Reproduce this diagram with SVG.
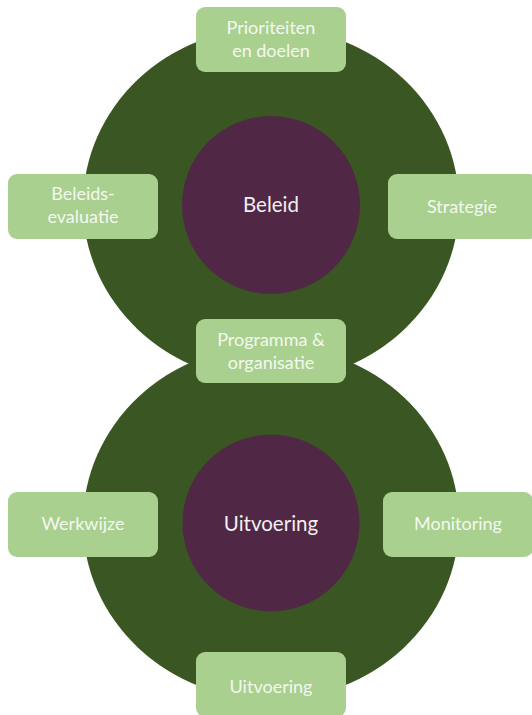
<svg xmlns="http://www.w3.org/2000/svg" width="532" height="715" viewBox="0 0 532 715">
  <style>
    .ring { fill: #3A5723; }
    .core { fill: #502845; }
    .box { fill: #A9D08E; }
    .lbl { font-family: Lato, "Noto Sans", "Liberation Sans", sans-serif; font-size: 18px; fill: #F4F8F0; text-anchor: middle; }
    .core-lbl { font-family: Lato, "Noto Sans", "Liberation Sans", sans-serif; font-size: 20.5px; fill: #F2EEF1; text-anchor: middle; }
  </style>
  <rect width="532" height="715" fill="#FFFFFF"/>

  <g id="beleid-ring">
    <ellipse class="ring" cx="271" cy="204.5" rx="188" ry="177"/>
  </g>
  <g id="uitvoering-ring">
    <ellipse class="ring" cx="271" cy="522.5" rx="188" ry="177"/>
  </g>

  <g id="beleid">
    <circle class="core" cx="271" cy="205" r="89"/>
    <text class="core-lbl" x="271" y="212">Beleid</text>
  </g>
  <g id="uitvoering-core">
    <circle class="core" cx="271" cy="523" r="88.5"/>
    <text class="core-lbl" x="271" y="531">Uitvoering</text>
  </g>

  <g id="connectors"/>

  <g id="prioriteiten">
    <rect class="box" x="196" y="7" width="150" height="65" rx="9"/>
    <text class="lbl" x="271" y="34">Prioriteiten</text>
    <text class="lbl" x="271" y="57">en doelen</text>
  </g>
  <g id="beleidsevaluatie">
    <rect class="box" x="8" y="174" width="150" height="65" rx="9"/>
    <text class="lbl" x="83" y="200">Beleids-</text>
    <text class="lbl" x="83" y="223">evaluatie</text>
  </g>
  <g id="strategie">
    <rect class="box" x="388" y="174" width="150" height="65" rx="9"/>
    <text class="lbl" x="462" y="213">Strategie</text>
  </g>
  <g id="programma">
    <rect class="box" x="196" y="319" width="150" height="64" rx="9"/>
    <text class="lbl" x="271" y="346">Programma &amp;</text>
    <text class="lbl" x="271" y="369">organisatie</text>
  </g>
  <g id="werkwijze">
    <rect class="box" x="8" y="492" width="150" height="65" rx="9"/>
    <text class="lbl" x="83" y="530">Werkwijze</text>
  </g>
  <g id="monitoring">
    <rect class="box" x="383" y="492" width="150" height="65" rx="9"/>
    <text class="lbl" x="458" y="530">Monitoring</text>
  </g>
  <g id="uitvoering">
    <rect class="box" x="196" y="652" width="150" height="65" rx="9"/>
    <text class="lbl" x="271" y="693">Uitvoering</text>
  </g>
</svg>
